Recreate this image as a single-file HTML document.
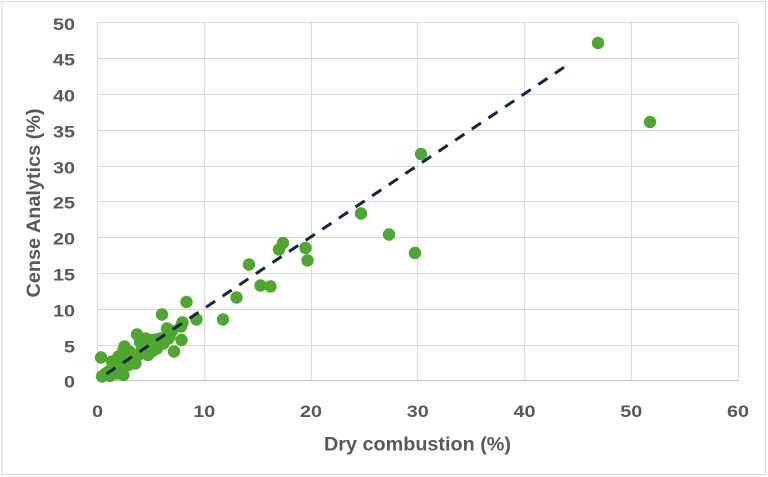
<!DOCTYPE html>
<html>
<head>
<meta charset="utf-8">
<style>
  html, body { margin:0; padding:0; background:#ffffff; }
  body { width:768px; height:477px; overflow:hidden; }
  svg { display:block; }
  text { font-family: "Liberation Sans", Arial, sans-serif; font-weight:bold; fill:#595959; }
</style>
</head>
<body>
<svg width="768" height="477" viewBox="0 0 768 477" xmlns="http://www.w3.org/2000/svg">
  <rect x="0" y="0" width="768" height="477" fill="#ffffff"/>
  <rect x="2" y="1.5" width="763.5" height="473" fill="none" stroke="#d9d9d9" stroke-width="1"/>

  <g stroke="#d9d9d9" stroke-width="1" fill="none">
    <line x1="97.5" y1="22.5" x2="738.5" y2="22.5"/>
    <line x1="97.5" y1="58.5" x2="738.5" y2="58.5"/>
    <line x1="97.5" y1="94.5" x2="738.5" y2="94.5"/>
    <line x1="97.5" y1="130.5" x2="738.5" y2="130.5"/>
    <line x1="97.5" y1="166.5" x2="738.5" y2="166.5"/>
    <line x1="97.5" y1="201.5" x2="738.5" y2="201.5"/>
    <line x1="97.5" y1="237.5" x2="738.5" y2="237.5"/>
    <line x1="97.5" y1="273.5" x2="738.5" y2="273.5"/>
    <line x1="97.5" y1="309.5" x2="738.5" y2="309.5"/>
    <line x1="97.5" y1="345.5" x2="738.5" y2="345.5"/>
    <line x1="97.5" y1="22.5" x2="97.5" y2="380.5"/>
    <line x1="204.5" y1="22.5" x2="204.5" y2="380.5"/>
    <line x1="311.5" y1="22.5" x2="311.5" y2="380.5"/>
    <line x1="417.5" y1="22.5" x2="417.5" y2="380.5"/>
    <line x1="524.5" y1="22.5" x2="524.5" y2="380.5"/>
    <line x1="631.5" y1="22.5" x2="631.5" y2="380.5"/>
    <line x1="738.5" y1="22.5" x2="738.5" y2="380.5"/>
  </g>
  <line x1="97" y1="380.5" x2="738.5" y2="380.5" stroke="#c8c8c8" stroke-width="1"/>

  <g font-size="16.5" text-anchor="end">
    <text x="75" y="30" textLength="22" lengthAdjust="spacingAndGlyphs">50</text>
    <text x="75" y="65.5" textLength="22" lengthAdjust="spacingAndGlyphs">45</text>
    <text x="75" y="101.5" textLength="22" lengthAdjust="spacingAndGlyphs">40</text>
    <text x="75" y="137.5" textLength="22" lengthAdjust="spacingAndGlyphs">35</text>
    <text x="75" y="173.5" textLength="22" lengthAdjust="spacingAndGlyphs">30</text>
    <text x="75" y="208.5" textLength="22" lengthAdjust="spacingAndGlyphs">25</text>
    <text x="75" y="244.5" textLength="22" lengthAdjust="spacingAndGlyphs">20</text>
    <text x="75" y="280.5" textLength="22" lengthAdjust="spacingAndGlyphs">15</text>
    <text x="75" y="316.5" textLength="22" lengthAdjust="spacingAndGlyphs">10</text>
    <text x="75" y="352.5" textLength="11" lengthAdjust="spacingAndGlyphs">5</text>
    <text x="75" y="387.5" textLength="11" lengthAdjust="spacingAndGlyphs">0</text>
  </g>

  <g font-size="16.5" text-anchor="middle">
    <text x="97.5" y="417" textLength="11" lengthAdjust="spacingAndGlyphs">0</text>
    <text x="204.3" y="417" textLength="22" lengthAdjust="spacingAndGlyphs">10</text>
    <text x="311" y="417" textLength="22" lengthAdjust="spacingAndGlyphs">20</text>
    <text x="417.8" y="417" textLength="22" lengthAdjust="spacingAndGlyphs">30</text>
    <text x="524.5" y="417" textLength="22" lengthAdjust="spacingAndGlyphs">40</text>
    <text x="631.3" y="417" textLength="22" lengthAdjust="spacingAndGlyphs">50</text>
    <text x="738" y="417" textLength="22" lengthAdjust="spacingAndGlyphs">60</text>
  </g>

  <text x="417.5" y="450.5" font-size="19.5" text-anchor="middle" textLength="187" lengthAdjust="spacingAndGlyphs">Dry combustion (%)</text>
  <text transform="translate(40,203) rotate(-90)" x="0" y="0" font-size="19.5" text-anchor="middle" textLength="189" lengthAdjust="spacingAndGlyphs">Cense Analytics (%)</text>

  <g fill="#4ea72e">
    <circle cx="598" cy="43" r="6.2"/>
    <circle cx="650" cy="122" r="6.2"/>
    <circle cx="421" cy="154" r="6.2"/>
    <circle cx="361" cy="213.5" r="6.2"/>
    <circle cx="389" cy="234.5" r="6.2"/>
    <circle cx="415" cy="253" r="6.2"/>
    <circle cx="283" cy="243" r="6.2"/>
    <circle cx="279" cy="249.5" r="6.2"/>
    <circle cx="305.5" cy="248" r="6.2"/>
    <circle cx="307.5" cy="260.5" r="6.2"/>
    <circle cx="249" cy="264.5" r="6.2"/>
    <circle cx="260.5" cy="285.5" r="6.2"/>
    <circle cx="270.5" cy="286.5" r="6.2"/>
    <circle cx="236.5" cy="297.5" r="6.2"/>
    <circle cx="223" cy="319.5" r="6.2"/>
    <circle cx="186.5" cy="302" r="6.2"/>
    <circle cx="162" cy="314.5" r="6.2"/>
    <circle cx="196.5" cy="319.5" r="6.2"/>
    <circle cx="182.5" cy="322.5" r="6.2"/>
    <circle cx="181" cy="326.5" r="6.2"/>
    <circle cx="167" cy="328.5" r="6.2"/>
    <circle cx="172" cy="331" r="6.2"/>
    <circle cx="169.5" cy="336.5" r="6.2"/>
    <circle cx="181.5" cy="340" r="6.2"/>
    <circle cx="174" cy="351.5" r="6.2"/>
    <circle cx="137" cy="334.5" r="6.2"/>
    <circle cx="124.5" cy="346.5" r="6.2"/>
    <circle cx="101" cy="357.5" r="6.2"/>
    <circle cx="102" cy="376.5" r="6.2"/>
    <circle cx="105" cy="374" r="6.2"/>
    <circle cx="108.5" cy="371.5" r="6.2"/>
    <circle cx="113.5" cy="368.5" r="6.2"/>
    <circle cx="112" cy="361.5" r="6.2"/>
    <circle cx="118.5" cy="356.5" r="6.2"/>
    <circle cx="123.5" cy="350" r="6.2"/>
    <circle cx="125.5" cy="361.5" r="6.2"/>
    <circle cx="117" cy="373.5" r="6.2"/>
    <circle cx="123.5" cy="375" r="6.2"/>
    <circle cx="128.5" cy="365" r="6.2"/>
    <circle cx="132" cy="356.5" r="6.2"/>
    <circle cx="135.5" cy="363.5" r="6.2"/>
    <circle cx="138.5" cy="355" r="6.2"/>
    <circle cx="142" cy="348.5" r="6.2"/>
    <circle cx="147" cy="345" r="6.2"/>
    <circle cx="145.5" cy="338.5" r="6.2"/>
    <circle cx="149.5" cy="340" r="6.2"/>
    <circle cx="153.5" cy="340" r="6.2"/>
    <circle cx="157" cy="348.5" r="6.2"/>
    <circle cx="152" cy="351.5" r="6.2"/>
    <circle cx="148" cy="355" r="6.2"/>
    <circle cx="160.5" cy="338.5" r="6.2"/>
    <circle cx="163.5" cy="343.5" r="6.2"/>
    <circle cx="168.5" cy="338.5" r="6.2"/>
    <circle cx="156.5" cy="339.5" r="6.2"/>
    <circle cx="130" cy="352" r="6.2"/>
    <circle cx="119" cy="366" r="6.2"/>
    <circle cx="140" cy="342" r="6.2"/>
    <circle cx="115" cy="364" r="6.2"/>
    <circle cx="127" cy="357" r="6.2"/>
    <circle cx="110" cy="376" r="6.2"/>
  </g>

  <line x1="106.3" y1="374" x2="570" y2="63.3" stroke="#0e2841" stroke-width="3" stroke-dasharray="11,9"/>
</svg>
</body>
</html>
